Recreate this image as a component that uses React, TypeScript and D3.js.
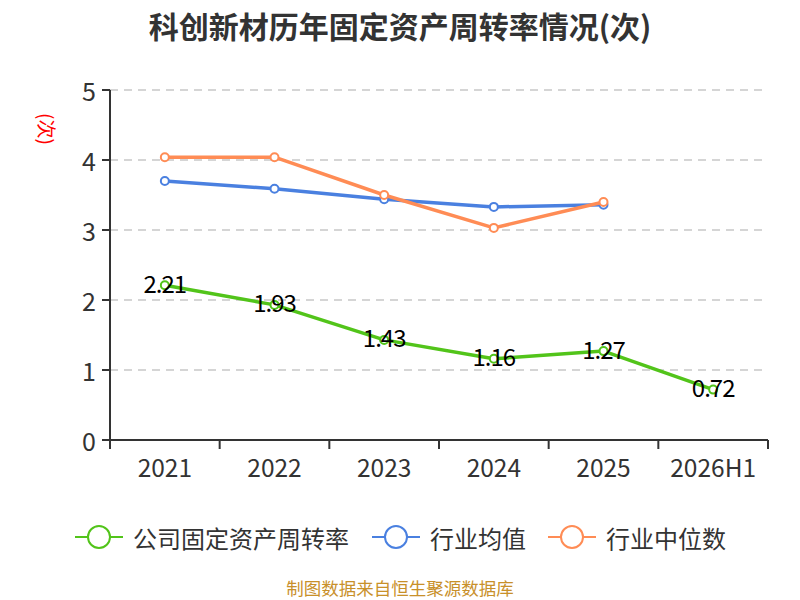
import React from "react";
import * as d3 from "d3";

const categories = ["2021", "2022", "2023", "2024", "2025", "2026H1"];
const companyValues = [2.21, 1.93, 1.43, 1.16, 1.27, 0.72];
const industryAvg = [3.7, 3.59, 3.44, 3.33, 3.36];
const industryMedian = [4.04, 4.04, 3.5, 3.03, 3.4];
const yTicks = [0, 1, 2, 3, 4, 5];
const seriesNames = ["公司固定资产周转率", "行业均值", "行业中位数"];
const colors = ["#52c41a", "#4a80e0", "#ff8c55"];
const titleText = "科创新材历年固定资产周转率情况(次)";
const sourceText = "制图数据来自恒生聚源数据库";
const unitText = "(次)";

const W = 800;
const H = 600;
const left = 110;
const right = 768;
const top = 90;
const bottom = 440;
const FONT = "'Noto Sans CJK SC', 'Noto Sans', sans-serif";

export default function App() {
  const x = d3.scaleBand<string>().domain(categories).range([left, right]);
  const y = d3.scaleLinear().domain([0, 5]).range([bottom, top]);
  const cx = (c: string) => (x(c) as number) + x.bandwidth() / 2;
  const line = d3
    .line<number>()
    .x((_, i) => cx(categories[i]))
    .y((d) => y(d));

  const series = [companyValues, industryAvg, industryMedian];

  const legendItems = [
    { x: 75, textX: 133 },
    { x: 372, textX: 430 },
    { x: 548, textX: 606 },
  ];

  return (
    <svg
      width={W}
      height={H}
      style={{ position: "absolute", left: 0, top: 0, background: "#fff" }}
      fontFamily={FONT}
    >
      <text
        x={400}
        y={25}
        textAnchor="middle"
        dominantBaseline="central"
        fontSize={30}
        fontWeight="bold"
        fill="#333"
      >
        {titleText}
      </text>
      <text
        x={47}
        y={129}
        fontSize={19}
        fill="#ff0000"
        textAnchor="middle"
        dominantBaseline="central"
        transform="rotate(90 47 129)"
      >
        {unitText}
      </text>
      {yTicks.map((t) => (
        <g key={t}>
          {t > 0 && (
            <line
              x1={left}
              x2={right}
              y1={y(t)}
              y2={y(t)}
              stroke="#c8c8c8"
              strokeWidth={1.5}
              strokeDasharray="8,6"
            />
          )}
          <line x1={left - 8} x2={left} y1={y(t)} y2={y(t)} stroke="#333" strokeWidth={2} />
          <text
            x={96}
            y={y(t)}
            textAnchor="end"
            dominantBaseline="central"
            fontSize={25}
            fill="#333"
          >
            {t}
          </text>
        </g>
      ))}
      <line x1={left} x2={left} y1={top} y2={bottom + 9} stroke="#333" strokeWidth={2} />
      <line x1={left - 8} x2={right} y1={bottom} y2={bottom} stroke="#333" strokeWidth={2} />
      {categories.map((c) => (
        <g key={c}>
          <line
            x1={x(c) as number}
            x2={x(c) as number}
            y1={bottom}
            y2={bottom + 9}
            stroke="#333"
            strokeWidth={2}
          />
          <text x={cx(c)} y={466} textAnchor="middle" dominantBaseline="central" fontSize={24.5} fill="#333">
            {c}
          </text>
        </g>
      ))}
      <line x1={right} x2={right} y1={bottom} y2={bottom + 9} stroke="#333" strokeWidth={2} />
      {[1, 2, 0].map((si) => (
        <g key={si}>
          <path d={line(series[si]) || ""} fill="none" stroke={colors[si]} strokeWidth={3.5} strokeLinejoin="round" />
          {series[si].map((v, i) => (
            <circle
              key={i}
              cx={cx(categories[i])}
              cy={y(v)}
              r={4}
              fill="#fff"
              stroke={colors[si]}
              strokeWidth={2}
            />
          ))}
        </g>
      ))}
      {companyValues.map((v, i) => (
        <text
          key={i}
          x={cx(categories[i])}
          y={y(v) - 3}
          textAnchor="middle"
          dominantBaseline="central"
          fontSize={24}
          fill="#000"
          style={{ letterSpacing: "-1px" }}
        >
          {v.toFixed(2)}
        </text>
      ))}
      {legendItems.map((it, i) => (
        <g key={i}>
          <line x1={it.x} x2={it.x + 48} y1={537} y2={537} stroke={colors[i]} strokeWidth={2} />
          <circle cx={it.x + 24} cy={537} r={11} fill="#fff" stroke={colors[i]} strokeWidth={2} />
          <text x={it.textX} y={537} dominantBaseline="central" fontSize={24} fill="#333">
            {seriesNames[i]}
          </text>
        </g>
      ))}
      <text x={400} y={587} textAnchor="middle" dominantBaseline="central" fontSize={17.5} fill="#c8902a">
        {sourceText}
      </text>
    </svg>
  );
}
